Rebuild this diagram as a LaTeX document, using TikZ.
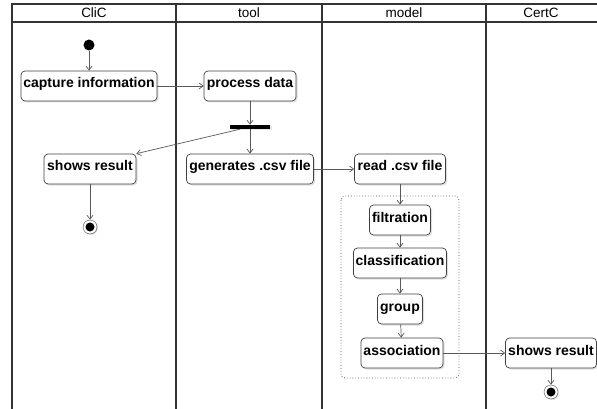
\documentclass[tikz,border=0pt]{standalone}
\usepackage{fontspec}
\setmainfont{Liberation Sans}
\usetikzlibrary{shadows,arrows.meta}

\tikzset{
  act/.style={draw=black!75, line width=.7pt, fill=white, rounded corners=4pt, font=\fontsize{14}{16}\selectfont\bfseries,
    inner xsep=2pt, text height=10pt, text depth=6pt, minimum height=30,
    drop shadow={shadow xshift=1.5pt, shadow yshift=-1.5pt, opacity=.25}},
  flow/.style={draw=black!65, line width=.7pt, -{Straight Barb[length=4pt,width=6pt]}},
  lane/.style={draw=black!80, line width=1.2pt},
  head/.style={font=\fontsize{13.5}{15}\selectfont},
}

\begin{document}
\begin{tikzpicture}[x=1pt,y=-1pt]
\useasboundingbox (0,0) rectangle (597,409);
%% swimlanes
\draw[lane] (12,409) -- (12,4) -- (597,4);
\draw[lane] (12,22) -- (597,22);
\draw[lane] (176,4) -- (176,409);
\draw[lane] (322,4) -- (322,409);
\draw[lane] (486,4) -- (486,409);
\node[head] (hclic) at (94,13) {CliC};
\node[head] (htool) at (249,13) {tool};
\node[head] (hmodel) at (404,13) {model};
\node[head] (hcertc) at (541,13) {CertC};
%% region in model lane
\draw[dotted, line width=.8pt, draw=black!65, rounded corners=4pt] (341,196) rectangle (459,378);
%% nodes
\node[circle, fill=black, inner sep=0, minimum size=11] (start) at (89,45) {};
\node[act, minimum width=136] (capture) at (89,86) {capture information};
\node[act, minimum width=92] (process) at (250,86) {process data};
\node[fill=black, inner sep=0, minimum width=40, minimum height=4,
  drop shadow={shadow xshift=1.5pt, shadow yshift=-1.5pt, opacity=.2}] (fork) at (250,127) {};
\node[act, minimum width=92] (showsA) at (90,169) {shows result};
\node[circle, draw=black!70, fill=white, inner sep=0, minimum size=14,
  drop shadow={shadow xshift=1pt, shadow yshift=-1pt, opacity=.25}] (endA) at (90,227) {};
\fill (endA) circle (4.5);
\node[act, minimum width=127] (generate) at (250,169) {generates .csv file};
\node[act, minimum width=91] (read) at (400,169) {read .csv file};
\node[act, minimum width=61] (filtration) at (400,220) {filtration};
\node[act, minimum width=93] (classification) at (400,263) {classification};
\node[act, minimum width=45] (group) at (400,309) {group};
\node[act, minimum width=82] (association) at (402,353) {association};
\node[act, minimum width=91] (showsB) at (551,353) {shows result};
\node[circle, draw=black!70, fill=white, inner sep=0, minimum size=14,
  drop shadow={shadow xshift=1pt, shadow yshift=-1pt, opacity=.25}] (endB) at (551,392) {};
\fill (endB) circle (4.5);
%% flows
\draw[flow] (start) -- (capture);
\draw[flow] (capture) -- (process);
\draw[flow] (process) -- (fork);
\draw[flow] ([xshift=-10pt]fork.south) -- (showsA.north east);
\draw[flow] (fork) -- (generate);
\draw[flow] (showsA) -- (endA);
\draw[flow] (generate) -- (read);
\draw[flow] (read) -- (filtration);
\draw[flow] (filtration) -- (classification);
\draw[flow] (classification) -- (group);
\draw[flow] (group) -- (association);
\draw[flow] (association) -- (showsB);
\draw[flow] (showsB) -- (endB);
\end{tikzpicture}
\end{document}
